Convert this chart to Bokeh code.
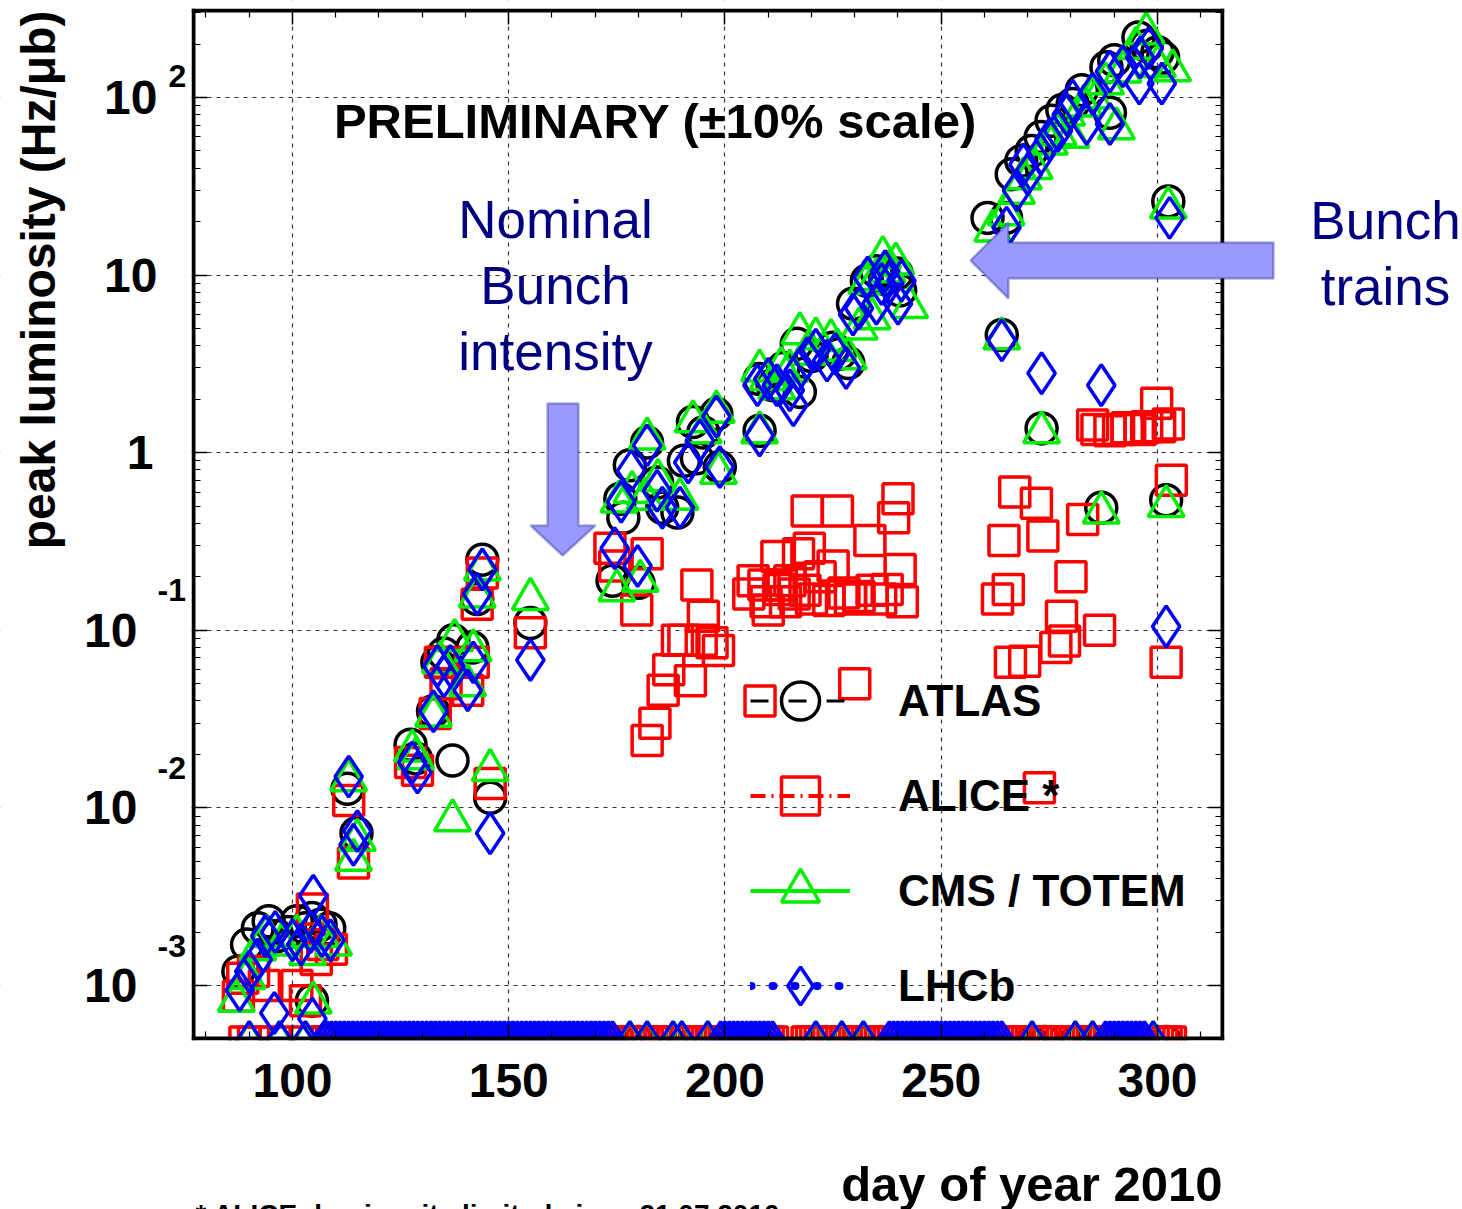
from math import pi
from bokeh.plotting import figure
from bokeh.models import (Range1d, FixedTicker, LinearAxis, LogAxis,
                          Label, Legend, LegendItem, PolyAnnotation, BoxAnnotation)
from bokeh.embed import file_html
from bokeh.resources import INLINE

FONT = "Liberation Sans"

# ---------------- data (day of year 2010, peak luminosity Hz/ub) ----------------
ATLAS_DAY = [87.5, 89.5, 92.0, 94.5, 96.5, 99.0, 101.0, 103.0, 104.5, 106.5, 108.5, 104.5,
             112.7, 114.8, 127.3, 128.5, 132.5, 133.5, 135.0, 137.2, 141.6, 137.0, 143.9, 142.7, 145.7, 155.0,
             174.0, 175.8, 176.5, 178.0, 180.0, 182.0, 184.3, 185.5, 189.0, 190.5, 192.6, 193.5, 195.0, 198.0, 198.8,
             208.0, 208.0, 211.0, 213.5, 216.6, 217.3, 220.0, 225.0, 226.5, 228.5, 229.6, 232.8, 235.0, 237.0, 239.7, 240.5,
             260.7, 264.0, 265.0, 266.3, 268.5, 270.9, 273.2, 273.0, 275.5, 278.0, 280.4, 282.5, 287.0, 288.2, 289.0,
             290.0, 295.6, 297.5, 300.0, 301.3, 302.0, 302.5]
ATLAS_LUMI = [0.0012, 0.0017, 0.0021, 0.0023, 0.0019, 0.0020, 0.0023, 0.0021, 0.0024, 0.0022, 0.0021, 0.00082,
              0.0128, 0.0072, 0.0227, 0.019, 0.035, 0.066, 0.074, 0.088, 0.080, 0.0185, 0.25, 0.15, 0.0114, 0.11,
              0.19, 0.55, 0.43, 0.85, 0.185, 1.14, 0.68, 0.49, 0.46, 0.90, 1.49, 0.93, 1.30, 1.65, 0.83,
              1.33, 2.6, 2.4, 3.0, 4.1, 2.2, 3.5, 3.9, 3.6, 3.2, 6.9, 9.3, 10.5, 9.5, 10.2, 8.2,
              21.0, 4.6, 21.0, 37.0, 44.0, 50.0, 1.37, 60.0, 74.0, 85.0, 92.0, 110.0, 0.49, 148.0, 82.0,
              162.0, 218.0, 195.0, 180.0, 168.0, 0.54, 26.0]

ALICE_DAY = [87.5, 88.5, 91.0, 93.5, 101.0, 103.0, 105.5, 104.6, 107.0, 109.0,
             113.0, 114.1, 127.3, 128.9, 133.0, 134.2, 135.5, 141.8, 140.5, 142.7, 143.9, 145.7, 155.0,
             173.4, 174.5, 179.6, 182.0, 182.0, 183.8, 185.7, 187.0, 189.0, 190.5, 192.0, 193.5, 194.5, 195.0, 197.0, 198.5,
             205.5, 206.5, 208.1, 209.0, 209.5, 210.0, 212.0, 212.5, 213.0, 214.0, 215.0, 216.0, 217.0, 218.5, 219.0, 219.5,
             220.0, 222.0, 224.0, 225.0, 226.0, 227.5, 229.0, 230.0, 231.0, 233.5, 234.0, 236.0, 237.5, 239.0, 240.0,
             240.5, 241.0,
             263.0, 264.5, 265.5, 266.0, 267.0, 269.3, 272.0, 272.7, 273.5, 276.5, 277.8, 278.5, 280.0, 282.7, 285.0,
             286.0, 286.6, 289.0, 291.0, 293.0, 296.0, 297.5, 299.8, 300.5, 302.0, 302.5, 303.2]
ALICE_LUMI = [0.00087, 0.0011, 0.0012, 0.0010, 0.0010, 0.00082, 0.0014, 0.0027, 0.0017, 0.0016,
              0.011, 0.0049, 0.018, 0.0163, 0.034, 0.066, 0.050, 0.066, 0.046, 0.14, 0.21, 0.0137, 0.097,
              0.29, 0.23, 0.13, 0.27, 0.024, 0.030, 0.046, 0.060, 0.088, 0.088, 0.052, 0.18, 0.088, 0.12, 0.085, 0.077,
              0.16, 0.19, 0.040, 0.18, 0.145, 0.13, 0.26, 0.17, 0.18, 0.145, 0.19, 0.16, 0.27, 0.168, 0.47, 0.29,
              0.15, 0.20, 0.147, 0.23, 0.47, 0.162, 0.15, 0.050, 0.155, 0.32, 0.168, 0.15, 0.17, 0.43, 0.55,
              0.22, 0.145,
              0.15, 0.32, 0.17, 0.066, 0.60, 0.067, 0.52, 0.013, 0.34, 0.080, 0.12, 0.087, 0.20, 0.42, 1.43,
              1.35, 0.10, 1.33, 1.35, 1.38, 1.35, 1.40, 1.90, 1.40, 0.066, 1.45, 0.70]

CMS_DAY = [87.0, 89.5, 92.0, 94.0, 97.5, 101.0, 103.5, 104.8, 106.5, 109.5,
           113.0, 114.1, 115.0, 127.7, 128.5, 132.6, 134.2, 137.5, 141.8, 140.5, 137.0, 142.7, 143.9, 145.7, 155.0,
           175.0, 175.5, 178.5, 180.4, 181.5, 182.0, 184.5, 189.6, 192.6, 195.0, 198.5, 198.0,
           208.0, 208.0, 210.0, 212.0, 213.0, 215.0, 217.3, 219.0, 221.0, 224.5, 226.0, 228.5, 231.0, 232.8, 234.0,
           235.0, 236.5, 237.5, 239.5, 242.7,
           261.9, 264.0, 265.0, 267.4, 269.0, 271.5, 275.0, 277.0, 279.0, 280.0, 283.0, 285.0, 288.0, 290.5, 292.0,
           295.0, 297.4, 300.0, 303.5, 302.5, 273.2, 287.0, 302.0]
CMS_LUMI = [0.00082, 0.0011, 0.0016, 0.0019, 0.0017, 0.0019, 0.0015, 0.00080, 0.0019, 0.0017,
            0.0143, 0.0051, 0.0066, 0.021, 0.019, 0.033, 0.066, 0.088, 0.077, 0.049, 0.0085, 0.155, 0.22, 0.0163, 0.15,
            0.168, 0.53, 0.60, 0.19, 0.55, 1.20, 0.70, 0.55, 1.50, 1.30, 0.77, 1.70,
            1.30, 2.9, 2.6, 2.3, 3.0, 2.9, 4.7, 3.6, 4.4, 4.3, 3.8, 3.4, 5.0, 9.0, 5.7,
            9.5, 12.6, 10.5, 11.6, 6.6,
            17.8, 4.4, 22.0, 29.0, 35.0, 40.0, 55.0, 62.0, 80.0, 60.0, 90.0, 100.0, 120.0, 67.0, 140.0,
            190.0, 230.0, 150.0, 142.0, 24.0, 1.3, 0.46, 0.50]

LHCB_DAY = [87.8, 90.0, 92.0, 93.7, 96.0, 100.0, 102.0, 104.2, 104.8, 106.8, 108.8, 95.8, 104.6,
            113.0, 114.1, 115.0, 127.7, 128.9, 132.6, 133.5, 135.0, 136.5, 140.5, 141.8, 142.7, 143.9, 145.7, 155.0,
            174.5, 176.0, 178.3, 179.8, 182.0, 184.3, 185.5, 189.6, 191.5, 194.2, 198.0, 198.8,
            208.0, 207.5, 210.0, 212.0, 215.0, 215.8, 217.0, 219.0, 221.0, 223.6, 225.5, 228.0, 229.6, 231.0, 233.0,
            235.0, 236.2, 237.0, 238.0, 240.0, 240.8,
            265.1, 267.5, 269.0, 270.0, 273.0, 275.0, 277.0, 279.0, 280.4, 283.6, 285.0, 289.0, 289.0, 292.0, 295.8,
            296.0, 298.0, 301.0, 302.8, 264.0, 273.2, 287.0, 302.0]
LHCB_LUMI = [0.00094, 0.0012, 0.0014, 0.0019, 0.0020, 0.0018, 0.0017, 0.0020, 0.0032, 0.0019, 0.0018, 0.00070, 0.00065,
             0.015, 0.0062, 0.0074, 0.018, 0.0158, 0.035, 0.063, 0.055, 0.063, 0.046, 0.066, 0.16, 0.22, 0.0072, 0.068,
             0.29, 0.53, 0.79, 0.23, 1.10, 0.61, 0.49, 0.49, 0.88, 1.17, 1.60, 0.83,
             1.25, 2.4, 2.6, 2.4, 2.25, 1.85, 2.9, 3.4, 3.8, 3.3, 3.6, 3.0, 6.0, 6.5, 9.7,
             6.9, 8.9, 10.5, 9.0, 6.9, 9.3,
             18.5, 30.0, 42.0, 37.0, 48.0, 58.0, 65.0, 80.0, 96.0, 71.0, 105.0, 71.0, 140.0, 150.0, 120.0,
             168.0, 190.0, 120.0, 21.0, 4.3, 2.8, 2.4, 0.105]

# days with no measurable luminosity: drawn on the floor of the axis
FLOOR_LUMI = 4.8e-4
ATLAS_FLOOR_DAYS = [180, 271, 274, 281, 285, 302]
ALICE_FLOOR_DAYS = [89, 91, 96, 103,
                    108, 109, 110, 111, 112, 113, 114, 115, 116, 117, 118, 119, 120, 121, 122, 123, 124, 125, 126, 127,
                    128, 129, 130, 131, 132, 133, 134, 135, 136, 137, 138, 139, 140, 141, 142, 143, 144, 145, 146, 147,
                    148, 149, 150, 151, 152, 153, 154, 155, 156, 157, 158, 159, 160, 161, 162, 163, 164, 165, 166, 167,
                    168, 169, 170, 171, 172, 173, 174, 175, 176, 177, 178, 179, 180, 181, 182, 183, 184, 185, 186, 187,
                    188, 189, 190, 191, 192, 193, 194, 195, 196, 197, 198, 199, 200, 201, 202, 203, 204, 205, 206, 207,
                    208, 209, 210, 211,
                    219, 220, 221, 222, 223, 224, 225, 226, 227, 228, 229, 230, 231, 232, 233, 234, 235, 236, 237, 238,
                    239, 240, 241, 242, 243, 244, 245, 246, 247, 248, 249, 250, 251, 252, 253, 254, 255, 256, 257, 258,
                    259, 260, 261, 262, 263, 264, 265, 266, 267, 268, 269, 270, 271, 272, 273, 274, 275,
                    278, 279, 280, 281, 282, 283, 284, 285, 286, 287, 288, 289, 290, 291, 292, 293, 294, 295, 296, 297,
                    298, 299, 300, 301, 302, 303]
CMS_FLOOR_DAYS = [90, 97, 103, 178, 182, 188, 190, 196, 221, 227, 232, 271, 281, 285, 299]
LHCB_FLOOR_DAYS = [90, 97, 103,
                   108, 109, 110, 111, 112, 113, 114, 115, 116, 117, 118, 119, 120, 121, 122, 123, 124, 125, 126, 127,
                   128, 129, 130, 131, 132, 133, 134, 135, 136, 137, 138, 139, 140, 141, 142, 143, 144, 145, 146, 147,
                   148, 149, 150, 151, 152, 153, 154, 155, 156, 157, 158, 159, 160, 161, 162, 163, 164, 165, 166, 167,
                   168, 169, 170, 171, 172, 173, 174,
                   178, 182, 188, 190, 196,
                   199, 200, 201, 202, 203, 204, 205, 206, 207, 208, 209, 210, 211,
                   221, 227, 232,
                   238, 239, 240, 241, 242, 243, 244, 245, 246, 247, 248, 249, 250, 251, 252, 253, 254, 255, 256, 257,
                   258, 259, 260, 261, 262, 263, 264,
                   271, 281, 285,
                   288, 289, 290, 291, 292, 293, 294, 295, 296, 297, 299]

X_TICKS = [100, 150, 200, 250, 300]
X_TICK_LABELS = ["100", "150", "200", "250", "300"]
X_MINOR_TICKS = [80, 90, 110, 120, 130, 140, 160, 170, 180, 190, 210, 220, 230, 240, 260, 270, 280, 290, 310]
Y_TICK_VALUES = [1e-3, 1e-2, 1e-1, 1.0, 10.0, 100.0]
Y_TICK_MANTISSA = ["10", "10", "10", "1", "10", "10"]
Y_TICK_EXPONENT = ["-3", "-2", "-1", "", "", "2"]

SERIES_NAMES = ["ATLAS", "ALICE *", "CMS / TOTEM", "LHCb"]

# ---------------- axis limits (plot box) and canvas extent ----------------
X_LO, X_HI = 77.11, 315.03          # plot box, days
Y_LO, Y_HI = 5.03e-4, 309.0         # plot box, Hz/ub
X_CANVAS = (32.49, 370.52)          # whole canvas, days
Y_CANVAS = (5.48e-5, 351.7)         # whole canvas, Hz/ub
PX_PER_DAY = 4.325
PX_PER_DECADE = 177.6

p = figure(width=1462, height=1209, x_range=Range1d(*X_CANVAS), y_range=Range1d(*Y_CANVAS),
           y_axis_type="log", output_backend="svg", toolbar_location=None,
           min_border=0, min_border_left=0, min_border_right=0, min_border_top=0, min_border_bottom=0,
           background_fill_color="white", border_fill_color="white")
p.outline_line_color = None

xticker = FixedTicker(ticks=X_TICKS, minor_ticks=X_MINOR_TICKS)
y_minor = [m * 10.0 ** e for e in range(-3, 3) for m in range(2, 10) if Y_LO < m * 10.0 ** e < Y_HI]
yticker = FixedTicker(ticks=Y_TICK_VALUES, minor_ticks=y_minor)

xa = p.xaxis[0]
xa.ticker = xticker
xa.fixed_location = Y_LO
xa.bounds = (X_LO, X_HI)
ya = p.yaxis[0]
ya.ticker = yticker
ya.fixed_location = X_LO
ya.bounds = (Y_LO, Y_HI)
top_axis = LinearAxis(ticker=xticker, fixed_location=Y_HI, bounds=(X_LO, X_HI))
right_axis = LogAxis(ticker=yticker, fixed_location=X_HI, bounds=(Y_LO, Y_HI))
p.add_layout(top_axis, "above")
p.add_layout(right_axis, "right")
for ax in [xa, ya, top_axis, right_axis]:
    ax.major_label_text_font_size = "0px"
    ax.major_label_text_alpha = 0
    ax.major_label_standoff = 0
    ax.major_tick_in = 14
    ax.major_tick_out = 0
    ax.minor_tick_in = 7
    ax.minor_tick_out = 0
    ax.major_tick_line_width = 1.5
    ax.minor_tick_line_width = 1.2
    ax.axis_line_width = 4
    ax.axis_line_color = "black"
    ax.axis_line_cap = "square"

p.xgrid.ticker = xticker
p.ygrid.ticker = yticker
for g in [p.xgrid[0], p.ygrid[0]]:
    g.grid_line_color = "#333333"
    g.grid_line_dash = "4 5"
    g.grid_line_width = 1.2
    g.minor_grid_line_color = None

# ---------------- data marks ----------------
LW = 3.5
atlas = p.scatter(ATLAS_DAY, ATLAS_LUMI, marker="circle", size=31, fill_color=None, line_color="black", line_width=LW)
p.scatter(ATLAS_FLOOR_DAYS, [FLOOR_LUMI] * len(ATLAS_FLOOR_DAYS), marker="circle", size=31,
          fill_color=None, line_color="black", line_width=LW)
alice = p.scatter(ALICE_DAY, ALICE_LUMI, marker="square", size=30, fill_color=None, line_color="#ff0000", line_width=LW)
p.scatter(ALICE_FLOOR_DAYS, [FLOOR_LUMI] * len(ALICE_FLOOR_DAYS), marker="square", size=30,
          fill_color=None, line_color="#ff0000", line_width=LW)
cms = p.scatter(CMS_DAY, CMS_LUMI, marker="triangle", size=36, fill_color=None, line_color="#00ee00", line_width=LW)
p.scatter(CMS_FLOOR_DAYS, [FLOOR_LUMI] * len(CMS_FLOOR_DAYS), marker="triangle", size=36,
          fill_color=None, line_color="#00ee00", line_width=LW)
lhcb = p.scatter(LHCB_DAY, LHCB_LUMI, marker="diamond", size=41, fill_color=None, line_color="#0000ff", line_width=LW)
p.scatter(LHCB_FLOOR_DAYS, [FLOOR_LUMI] * len(LHCB_FLOOR_DAYS), marker="diamond", size=41,
          fill_color=None, line_color="#0000ff", line_width=LW)

# legend-only line styles (single point: nothing is drawn in the plot)
l_atlas = p.line(ATLAS_DAY[:1], ATLAS_LUMI[:1], line_color="black", line_width=3, line_dash="18 20")
l_alice = p.line(ALICE_DAY[:1], ALICE_LUMI[:1], line_color="#ff0000", line_width=4, line_dash="15 6 2 6")
l_cms = p.line(CMS_DAY[:1], CMS_LUMI[:1], line_color="#00ee00", line_width=4)
l_lhcb = p.line(LHCB_DAY[:1], LHCB_LUMI[:1], line_color="#0000ff", line_width=8, line_dash="1 21", line_cap="round")

# ---------------- white masks outside the plot box (clip marks/grid to the box, keep frame line) ----------------
gap_x = 2.0 / PX_PER_DAY
gap_y = 10 ** (2.0 / PX_PER_DECADE)
for box in [BoxAnnotation(right=X_LO - gap_x), BoxAnnotation(left=X_HI + gap_x),
            BoxAnnotation(bottom=Y_HI * gap_y), BoxAnnotation(top=Y_LO / gap_y)]:
    box.fill_color = "white"
    box.fill_alpha = 1.0
    box.line_color = None
    p.add_layout(box)

legend = Legend(items=[LegendItem(label=SERIES_NAMES[0], renderers=[l_atlas, atlas]),
                       LegendItem(label=SERIES_NAMES[1], renderers=[l_alice, alice]),
                       LegendItem(label=SERIES_NAMES[2], renderers=[l_cms, cms]),
                       LegendItem(label=SERIES_NAMES[3], renderers=[l_lhcb, lhcb])],
                location=(750, 176), padding=0, margin=0, spacing=0,
                glyph_width=100, glyph_height=95, label_standoff=48,
                label_text_font=FONT, label_text_font_size="44px", label_text_font_style="bold",
                label_text_color="black", border_line_alpha=0, background_fill_alpha=0)
p.add_layout(legend)

# ---------------- tick labels ----------------
for t, lab in zip(X_TICKS, X_TICK_LABELS):
    p.add_layout(Label(x=t, y=1080, x_units="data", y_units="canvas", text=lab,
                       text_align="center", text_baseline="middle",
                       text_font=FONT, text_font_size="48px", text_font_style="bold", text_color="black"))

for val, mant, expo in zip(Y_TICK_VALUES, Y_TICK_MANTISSA, Y_TICK_EXPONENT):
    neg = expo.startswith("-")
    p.add_layout(Label(x=137 if neg else (153 if mant == "1" else 157), y=val,
                       x_units="canvas", y_units="data", text=mant,
                       text_align="right", text_baseline="middle",
                       text_font=FONT, text_font_size="48px", text_font_style="bold", text_color="black"))
    if expo:
        p.add_layout(Label(x=157 if neg else 168, y=val, y_offset=40 if neg else 22,
                           x_units="canvas", y_units="data", text=expo,
                           text_align="left", text_baseline="middle",
                           text_font=FONT, text_font_size="32px", text_font_style="bold", text_color="black"))

# ---------------- titles and annotations ----------------
p.add_layout(Label(x=38, y=10, x_units="canvas", y_units="canvas", angle=pi / 2,
                   text="peak luminosity (Hz/μb)", text_align="right", text_baseline="middle",
                   text_font=FONT, text_font_size="48px", text_font_style="bold", text_color="black"))
p.add_layout(Label(x=1222, y=1183, x_units="canvas", y_units="canvas",
                   text="day of year 2010", text_align="right", text_baseline="middle",
                   text_font=FONT, text_font_size="49px", text_font_style="bold", text_color="black"))
p.add_layout(Label(x=195, y=1198, x_units="canvas", y_units="canvas",
                   text="* ALICE: luminosity limited since 21.07.2010", text_align="left", text_baseline="top",
                   text_font=FONT, text_font_size="28px", text_font_style="bold", text_color="black"))
p.add_layout(Label(x=655, y=120, x_units="canvas", y_units="canvas",
                   text="PRELIMINARY (±10% scale)", text_align="center", text_baseline="middle",
                   text_font=FONT, text_font_size="49px", text_font_style="bold", text_color="black"))
p.add_layout(Label(x=555, y=285, x_units="canvas", y_units="canvas",
                   text="Nominal\nBunch\nintensity", text_align="center", text_baseline="middle",
                   text_line_height=1.12,
                   text_font=FONT, text_font_size="53px", text_color="#000080"))
p.add_layout(Label(x=1385, y=253, x_units="canvas", y_units="canvas",
                   text="Bunch\ntrains", text_align="center", text_baseline="middle",
                   text_line_height=1.12,
                   text_font=FONT, text_font_size="53px", text_color="#000080"))

ARROW_FILL = "#9999ff"
ARROW_LINE = "#000080"
p.add_layout(PolyAnnotation(xs=[547, 578, 578, 595, 562, 530, 547], ys=[403, 403, 525, 525, 555, 525, 525],
                            xs_units="canvas", ys_units="canvas",
                            fill_color=ARROW_FILL, fill_alpha=1.0, line_color=ARROW_LINE, line_width=2.5))
p.add_layout(PolyAnnotation(xs=[970, 1008, 1008, 1273, 1273, 1008, 1008], ys=[260, 222, 242, 242, 278, 278, 298],
                            xs_units="canvas", ys_units="canvas",
                            fill_color=ARROW_FILL, fill_alpha=1.0, line_color=ARROW_LINE, line_width=2.5))

open("out.html", "w").write(file_html(p, INLINE))
